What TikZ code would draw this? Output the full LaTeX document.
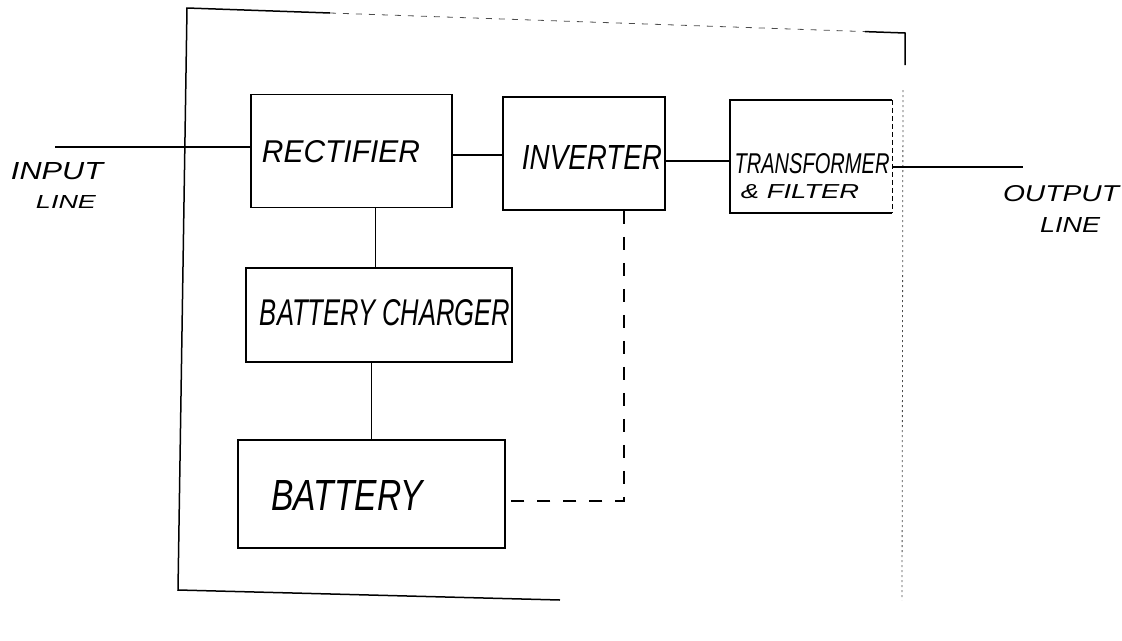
\documentclass[tikz,border=0pt]{standalone}
\usepackage{fontspec}
\setmainfont{Liberation Sans}
\newcommand{\hw}[3]{\resizebox{#1}{#2}{\itshape #3}}
\begin{document}
\begin{tikzpicture}[x=1pt,y=-1pt,
  blk/.style={draw,line width=1.5pt,rectangle,inner sep=0pt},
  lbl/.style={inner sep=0pt,outer sep=0pt},
  wire/.style={line width=1.3pt},
  dwire/.style={line width=1.2pt,dash pattern=on 13pt off 13pt},
  frm/.style={line width=1.5pt},
  frmfaint/.style={line width=0.8pt,dash pattern=on 6pt off 7pt,black!70},
  frmdot/.style={line width=0.8pt,dash pattern=on 2pt off 3pt,black!70}]
\useasboundingbox (0,0) rectangle (1122,640);

% outer frame
\draw[frm] (330,13) -- (187,8) -- (178,590) -- (560,600);
\draw[frmfaint] (330,13) -- (865,31.6);
\draw[frm] (865,31.6) -- (905,33) -- (905,65);
\draw[frmdot] (903,90) -- (902,600);

% blocks
\node[blk,minimum width=201pt,minimum height=113pt] (rect) at (351.5,151) {};
\node[blk,minimum width=162pt,minimum height=113pt] (inv) at (584,153.5) {};
\node[inner sep=0pt,minimum width=162pt,minimum height=113pt] (trans) at (811,156.5) {};
\draw[line width=1.5pt] (trans.north east) -- (trans.north west) -- (trans.south west) -- (trans.south east);
\draw[line width=1pt,dash pattern=on 5pt off 3pt] (trans.north east) -- (trans.south east);
\node[blk,minimum width=266pt,minimum height=94pt] (chg) at (379,315) {};
\node[blk,minimum width=267pt,minimum height=108pt] (bat) at (371.5,494) {};

% labels
\node[lbl] (tin1) at (57,171) {\hw{92pt}{17pt}{INPUT}};
\node[lbl] (tin2) at (66,202) {\hw{60pt}{13pt}{LINE}};
\node[lbl] (trect) at (341,152) {\hw{158pt}{22pt}{RECTIFIER}};
\node[lbl] (tinv) at (592,157) {\hw{140pt}{24pt}{INVERTER}};
\node[lbl] (ttr1) at (812,164) {\hw{155pt}{20pt}{TRANSFORMER}};
\node[lbl] (ttr2) at (800,192) {\hw{118pt}{14pt}{\& FILTER}};
\node[lbl] (tchg) at (385,313) {\hw{250pt}{26pt}{BATTERY CHARGER}};
\node[lbl] (tbat) at (347,495) {\hw{151pt}{30pt}{BATTERY}};
\node[lbl] (tout1) at (1061,194) {\hw{116pt}{16pt}{OUTPUT}};
\node[lbl] (tout2) at (1070,225) {\hw{60pt}{15pt}{LINE}};

% connectors
\coordinate (inp) at (55,147);
\coordinate (outp) at (1023,167);
\draw[wire] (inp) -- (inp -| rect.west);
\coordinate (c1) at ([yshift=-4pt]rect.east);
\draw[wire] (c1) -- (c1 -| inv.west);
\coordinate (c2) at ([yshift=-7.5pt]inv.east);
\draw[wire] (c2) -- (c2 -| trans.west);
\draw[wire] (outp -| trans.east) -- (outp);
\coordinate (c3) at ([xshift=24pt]rect.south);
\draw[wire] (c3) -- (c3 |- chg.north);
\draw[wire] (bat.north) -- (bat.north |- chg.south);
\coordinate (c4) at ([xshift=40pt]inv.south);
\coordinate (c5) at ([yshift=-7pt]bat.east);
\draw[dwire] (c4) |- (c5);
\end{tikzpicture}
\end{document}
